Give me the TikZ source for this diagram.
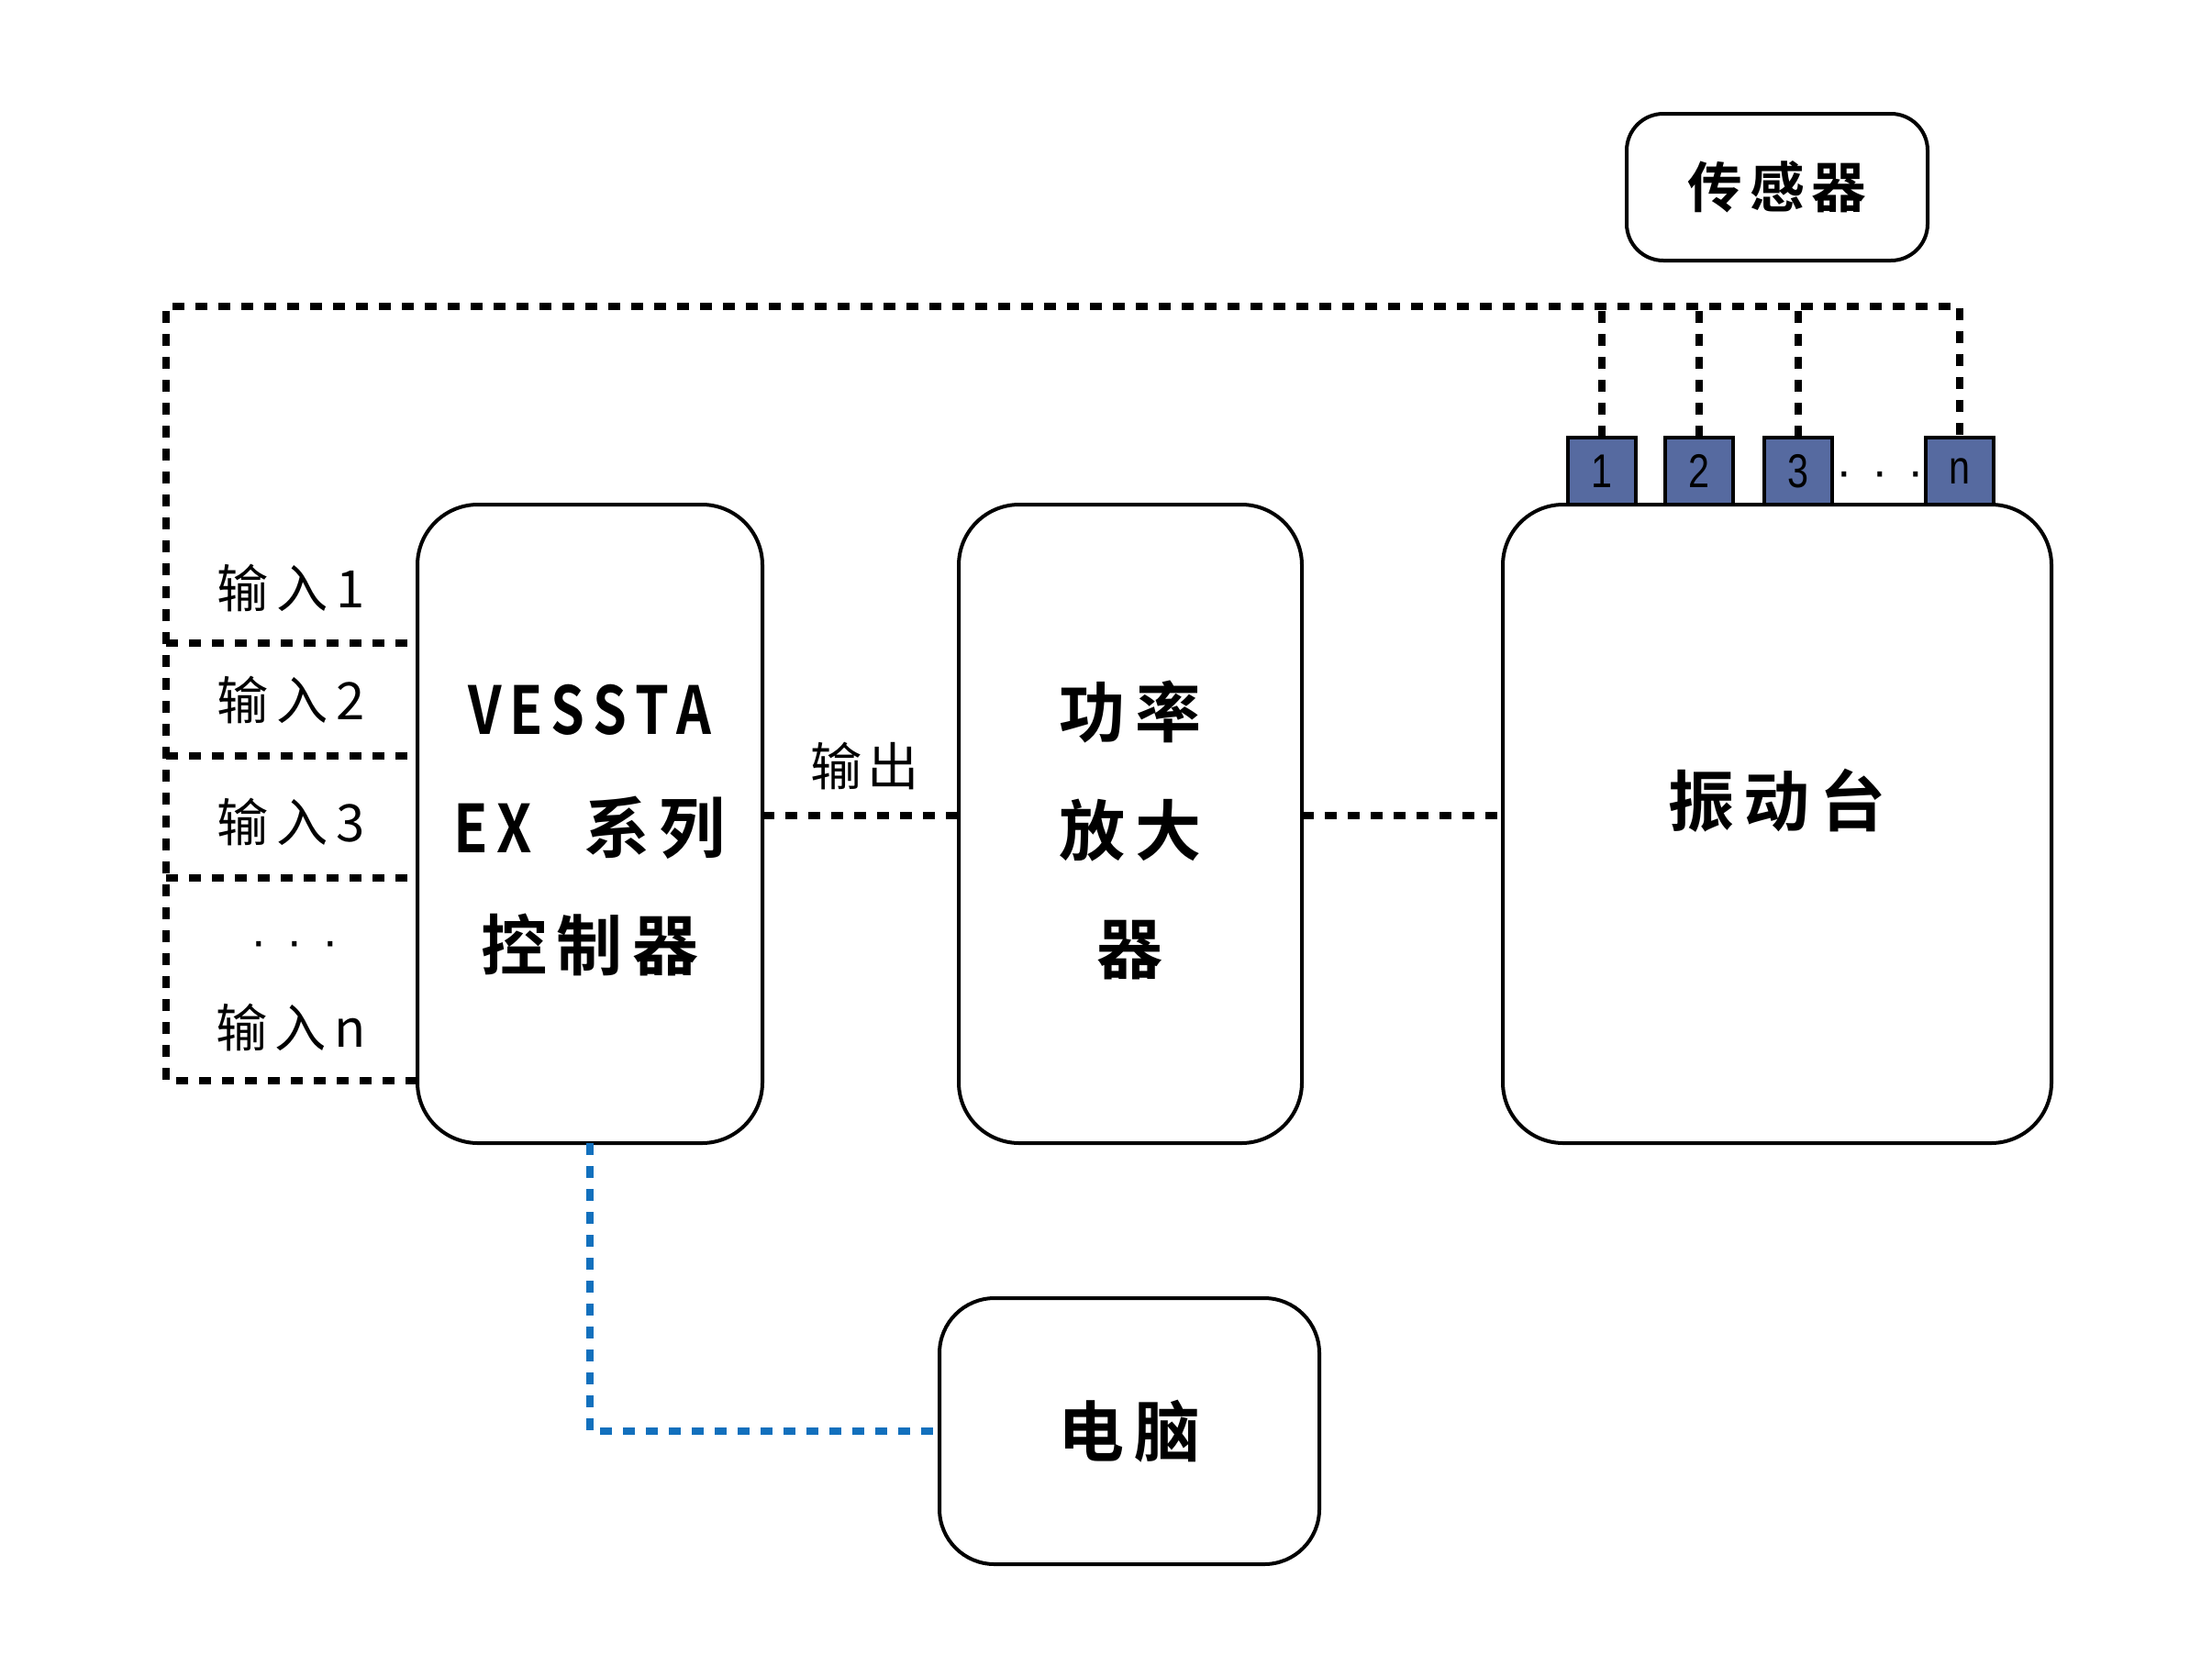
\documentclass[tikz,border=0pt]{standalone}
\usepackage{fontspec}
\newfontfamily\cjk{Noto Sans CJK SC}[BoldFont={Noto Sans CJK SC Bold}]
\newfontfamily\lsans{Liberation Sans}
\definecolor{portblue}{HTML}{566AA0}
\definecolor{linkblue}{HTML}{1270BD}
\newcommand\trk{\hspace{0.15em}}
\tikzset{
  box/.style={draw, line width=0.04cm, rounded corners=0.66cm, inner sep=0pt, outer sep=0pt},
  bigtxt/.style={font=\cjk\bfseries\fontsize{20.5pt}{36.6pt}\selectfont, align=center},
  bigone/.style={font=\cjk\bfseries\fontsize{20.5pt}{24pt}\selectfont},
  lbl/.style={font=\cjk\fontsize{16pt}{19pt}\selectfont, inner sep=0pt},
  dotlbl/.style={font=\lsans\fontsize{15pt}{18pt}\selectfont, inner sep=0pt, anchor=base},
  port/.style={draw, line width=0.04cm, fill=portblue, minimum width=0.74cm, minimum height=0.73cm,
    inner sep=0pt, outer sep=0pt, font=\lsans\fontsize{14.7pt}{17pt}\selectfont},
  dotline/.style={line width=0.08cm, dash pattern=on 0.13cm off 0.12cm},
  blueline/.style={dotline, draw=linkblue},
}
\begin{document}
\begin{tikzpicture}
\useasboundingbox (0,0) rectangle (24.11,-18.27);

% main boxes
\node[box, bigtxt, minimum width=3.76cm, minimum height=6.96cm] (ctrl) at (6.43,-8.98)
  {\rule{0pt}{19.5pt}\scalebox{0.82}[1]{V\trk E\trk S\trk S\trk T\trk A}\\
   \scalebox{0.85}[1]{E\trk X}\hspace{0.56cm}系\trk 列\\
   控\trk 制\trk 器};
\node[box, bigtxt, minimum width=3.74cm, minimum height=6.96cm] (amp) at (12.32,-8.98)
  {\rule{0pt}{21.5pt}功\trk 率\\ 放\trk 大\\ 器};
\node[box, bigone, minimum width=5.98cm, minimum height=6.96cm, text height=6pt, text depth=4.4pt] (vib) at (19.37,-8.98)
  {振\trk 动\trk 台};
\node[box, rounded corners=0.4cm, font=\cjk\bfseries\fontsize{17pt}{20pt}\selectfont,
  minimum width=3.28cm, minimum height=1.6cm] (sensor) at (19.37,-2.04)
  {传\hspace{0.13em}感\hspace{0.13em}器};
\node[box, bigone, rounded corners=0.6cm, minimum width=4.14cm, minimum height=2.9cm] (pc) at (12.31,-15.60)
  {电\trk 脑};

% sensor ports
\node[port] (p1) at (17.46,-5.135) {\scalebox{0.8}[1]{1}};
\node[port] (p2) at (18.52,-5.135) {\scalebox{0.8}[1]{2}};
\node[port] (p3) at (19.60,-5.135) {\scalebox{0.8}[1]{3}};
\node[port] (pn) at (21.36,-5.135) {\scalebox{0.8}[1]{n}};
\node[dotlbl] (pdots) at (20.49,-5.31) {·\hspace{0.215cm}·\hspace{0.215cm}·};

% input labels
\node[lbl] (in1) at (3.17,-6.41) {输\trk 入\trk 1};
\node[lbl] (in2) at (3.17,-7.63) {输\trk 入\trk 2};
\node[lbl] (in3) at (3.17,-8.96) {输\trk 入\trk 3};
\node[dotlbl] (indots) at (3.21,-10.43) {·\hspace{0.215cm}·\hspace{0.215cm}·};
\node[lbl] (inn) at (3.17,-11.20) {输\trk 入\trk n};
\node[lbl] (out) at (9.43,-8.35) {输\hspace{0.1em}出};

% feedback loop
\coordinate (tl) at (1.81,-3.34);
\coordinate (h1) at (1.81,-7.01);
\coordinate (h2) at (1.81,-8.24);
\coordinate (h3) at (1.81,-9.57);
\coordinate (h4) at (1.81,-11.78);
\draw[dotline] (h4 -| ctrl.west) -- (h4) -- (tl) -| (pn.north);
\draw[dotline] (h1) -- (h1 -| ctrl.west);
\draw[dotline] (h2) -- (h2 -| ctrl.west);
\draw[dotline] (h3) -- (h3 -| ctrl.west);
\draw[dotline] (p1.north) -- (p1.north |- tl);
\draw[dotline] (p2.north) -- (p2.north |- tl);
\draw[dotline] (p3.north) -- (p3.north |- tl);

% signal chain
\coordinate (m) at (0,-8.89);
\draw[dotline] (ctrl.east |- m) -- (amp.west |- m);
\draw[dotline] (amp.east |- m) -- (vib.west |- m);

% computer link
\draw[blueline] (ctrl.south) |- (pc.west);
\end{tikzpicture}
\end{document}
